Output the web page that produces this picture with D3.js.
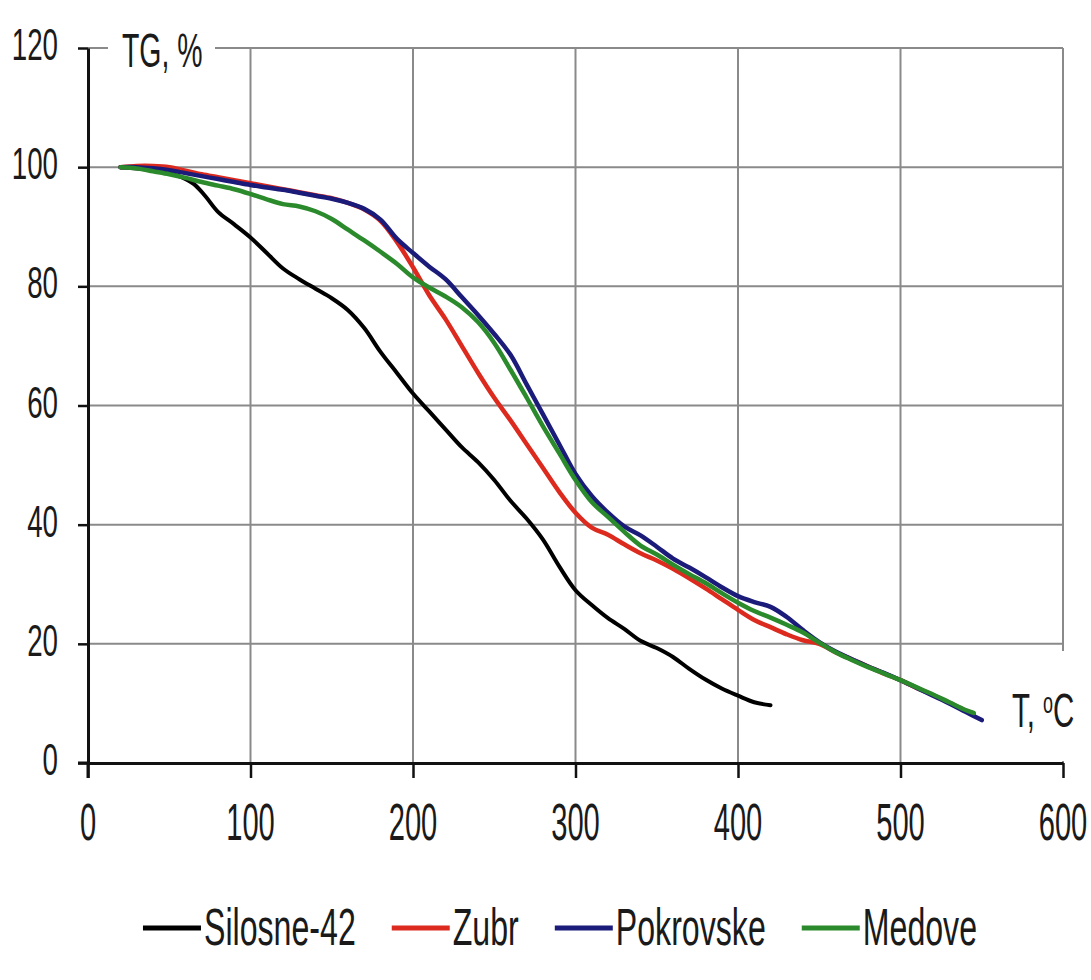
<!DOCTYPE html>
<html>
<head>
<meta charset="UTF-8">
<title>TG curves</title>
<script src="https://d3js.org/d3.v7.min.js"></script>
<style>
  body { margin: 0; background: #fff; }
  svg { display: block; }
  text { font-family: "Liberation Sans", Arial, sans-serif; fill: #1a1a1a; }
</style>
</head>
<body>
<svg id="chart" width="1091" height="980"></svg>
<script>
// ---- data ----
var seriesNames = ["Silosne-42", "Zubr", "Pokrovske", "Medove"];
var seriesColors = ["#000000", "#dd2a1e", "#1b1b7a", "#2b8a2b"];

var silosneT  = [20, 40, 55, 65, 72, 80, 90, 100, 110, 120, 130, 140, 150, 160, 170, 180, 190, 200, 210, 220, 230, 240, 250, 260, 270, 280, 290, 300, 310, 320, 330, 340, 350, 360, 370, 380, 390, 400, 410, 420];
var silosneTG = [100, 99.5, 98.6, 97.2, 95.2, 92.5, 90.4, 88.2, 85.6, 83, 81.2, 79.6, 78, 76, 73, 69, 65.5, 62, 59, 56, 53, 50.5, 47.5, 44, 41, 37.5, 33, 29, 26.5, 24.3, 22.5, 20.5, 19.3, 17.8, 15.8, 14, 12.5, 11.3, 10.2, 9.7];

var zubrT  = [20, 30, 40, 50, 60, 70, 80, 90, 100, 110, 120, 130, 140, 150, 160, 170, 180, 190, 200, 210, 220, 230, 240, 250, 260, 270, 280, 290, 300, 310, 320, 330, 340, 350, 360, 370, 380, 390, 400, 410, 420, 430, 440, 450, 460, 470, 480, 490, 500, 510, 520, 530, 540, 545];
var zubrTG = [100, 100.2, 100.2, 100, 99.4, 98.8, 98.3, 97.8, 97.3, 96.8, 96.3, 95.8, 95.3, 94.8, 94, 92.9, 91, 87.5, 83.2, 78.5, 74.5, 70, 65.5, 61.3, 57.5, 53.5, 49.5, 45.5, 42, 39.5, 38.3, 36.7, 35.2, 34, 32.6, 31, 29.3, 27.5, 25.7, 24, 22.8, 21.6, 20.6, 20, 18.6, 17.4, 16.2, 15, 13.9, 12.6, 11.4, 10.1, 8.8, 8.3];

var pokrovskeT  = [20, 30, 40, 50, 60, 70, 80, 90, 100, 110, 120, 130, 140, 150, 160, 170, 180, 190, 200, 210, 220, 230, 240, 250, 260, 270, 280, 290, 300, 310, 320, 330, 340, 350, 360, 370, 380, 390, 400, 410, 420, 430, 440, 450, 460, 470, 480, 490, 500, 510, 520, 530, 540, 550];
var pokrovskeTG = [100, 100, 99.8, 99.5, 99, 98.5, 98, 97.5, 97, 96.6, 96.2, 95.7, 95.2, 94.7, 94, 93, 91.2, 88, 85.6, 83.3, 81.2, 78.2, 75.2, 72, 68.5, 63.5, 58.5, 53.5, 48.5, 44.8, 42, 39.7, 38.2, 36.3, 34.3, 32.8, 31.2, 29.5, 28, 27, 26.2, 24.5, 22.3, 20.3, 18.7, 17.4, 16.2, 15.1, 13.9, 12.6, 11.3, 10, 8.6, 7.2];

var medoveT  = [20, 30, 40, 50, 60, 70, 80, 90, 100, 110, 120, 130, 140, 150, 160, 170, 180, 190, 200, 210, 220, 230, 240, 250, 260, 270, 280, 290, 300, 310, 320, 330, 340, 350, 360, 370, 380, 390, 400, 410, 420, 430, 440, 450, 460, 470, 480, 490, 500, 510, 520, 530, 540, 545];
var medoveTG = [100, 99.8, 99.3, 98.8, 98.2, 97.5, 96.9, 96.3, 95.5, 94.6, 93.8, 93.4, 92.6, 91.3, 89.5, 87.7, 85.8, 83.8, 81.5, 79.8, 78.3, 76.5, 74, 70.5, 66, 61.3, 56.5, 52, 47.5, 43.8, 41.3, 38.8, 36.5, 35, 33.3, 31.7, 30.2, 28.5, 26.9, 25.5, 24.4, 23.2, 21.9, 20.2, 18.6, 17.3, 16.1, 15, 13.9, 12.7, 11.5, 10.2, 8.9, 8.4];

var xTicks = [0, 100, 200, 300, 400, 500, 600];
var yTicks = [0, 20, 40, 60, 80, 100, 120];

var seriesT  = [silosneT, zubrT, pokrovskeT, medoveT];
var seriesTG = [silosneTG, zubrTG, pokrovskeTG, medoveTG];

// ---- layout ----
var svg = d3.select("#chart");
var plotL = 88, plotR = 1063, plotT = 48, plotB = 763;

var x = d3.scaleLinear().domain([0, 600]).range([plotL, plotR]);
var y = d3.scaleLinear().domain([0, 120]).range([plotB, plotT]);

// grid
var grid = svg.append("g").attr("stroke", "#8a8a8a").attr("stroke-width", 2);
grid.selectAll(".gx").data(xTicks.slice(1)).enter().append("line")
  .attr("x1", function(d) { return x(d); }).attr("x2", function(d) { return x(d); })
  .attr("y1", plotT).attr("y2", plotB);
grid.selectAll(".gy").data(yTicks.slice(1)).enter().append("line")
  .attr("x1", plotL).attr("x2", plotR)
  .attr("y1", function(d) { return y(d); }).attr("y2", function(d) { return y(d); });

// helper: narrow text (the original uses a condensed face)
function narrowText(g, str, px, py, size, sx, anchor) {
  var t = g.append("text")
    .attr("transform", "translate(" + px + "," + py + ") scale(" + sx + ",1)")
    .attr("font-size", size)
    .attr("text-anchor", anchor || "start")
    .text(str);
  return t;
}

// axis-title boxes that hide the grid behind them
svg.append("rect").attr("x", 108).attr("y", 28).attr("width", 107).attr("height", 44).attr("fill", "#fff");
svg.append("rect").attr("x", 1004).attr("y", 651).attr("width", 87).attr("height", 110).attr("fill", "#fff");

// axes
var yAxis = d3.axisLeft(y).tickValues(yTicks).tickSize(10).tickSizeOuter(0).tickFormat("");
var xAxis = d3.axisBottom(x).tickValues(xTicks).tickSize(15).tickSizeOuter(0).tickFormat("");

var gy = svg.append("g").attr("transform", "translate(" + plotL + ",0)").call(yAxis);
var gx = svg.append("g").attr("transform", "translate(0," + plotB + ")").call(xAxis);
[gx, gy].forEach(function(g) {
  g.selectAll("line").attr("stroke", "#111").attr("stroke-width", 2.5);
  g.select(".domain").attr("stroke", "#111").attr("stroke-width", 3);
});
// axis stubs crossing at the origin
svg.append("line").attr("x1", plotL - 10).attr("x2", plotL).attr("y1", plotB).attr("y2", plotB)
  .attr("stroke", "#111").attr("stroke-width", 3);
svg.append("line").attr("x1", plotL).attr("x2", plotL).attr("y1", plotB).attr("y2", plotB + 15)
  .attr("stroke", "#111").attr("stroke-width", 3);

// tick labels
var labels = svg.append("g");
yTicks.forEach(function(v) {
  narrowText(labels, String(v), 58, y(v) + 12, 44, 0.63, "end");
});
xTicks.forEach(function(v) {
  narrowText(labels, String(v), x(v), 840, 52, 0.56, "middle");
});

// axis titles
narrowText(svg, "TG, %", 122, 67, 49, 0.58, "start");
var tt = narrowText(svg, "T, ", 1012, 727, 49, 0.6, "start");
tt.append("tspan").attr("font-size", 30).attr("dy", -14).text("o");
tt.append("tspan").attr("dy", 14).text("C");

// curves
var line = d3.line()
  .x(function(d) { return x(d[0]); })
  .y(function(d) { return y(d[1]); })
  .curve(d3.curveCatmullRom.alpha(0.5));

seriesNames.forEach(function(name, i) {
  var pts = seriesT[i].map(function(t, j) { return [t, seriesTG[i][j]]; });
  svg.append("path")
    .datum(pts)
    .attr("fill", "none")
    .attr("stroke", seriesColors[i])
    .attr("stroke-width", i === 0 ? 4 : 4.5)
    .attr("stroke-linecap", "round")
    .attr("stroke-linejoin", "round")
    .attr("d", line);
});

// legend
var legend = svg.append("g");
var items = [];
var lineLen = 58, gapText = 3, gapItem = 36, sxL = 0.63;
var total = 0;
seriesNames.forEach(function(name, i) {
  var t = narrowText(legend, name, 0, 945, 51, sxL, "start");
  var w = t.node().getComputedTextLength() * sxL;
  items.push({ t: t, w: w });
  total += lineLen + gapText + w + (i < seriesNames.length - 1 ? gapItem : 0);
});
var cx = 560 - total / 2;
items.forEach(function(it, i) {
  legend.append("line")
    .attr("x1", cx).attr("x2", cx + lineLen)
    .attr("y1", 928).attr("y2", 928)
    .attr("stroke", seriesColors[i]).attr("stroke-width", 5);
  it.t.attr("transform", "translate(" + (cx + lineLen + gapText) + ",945) scale(" + sxL + ",1)");
  cx += lineLen + gapText + it.w + gapItem;
});
</script>
</body>
</html>
